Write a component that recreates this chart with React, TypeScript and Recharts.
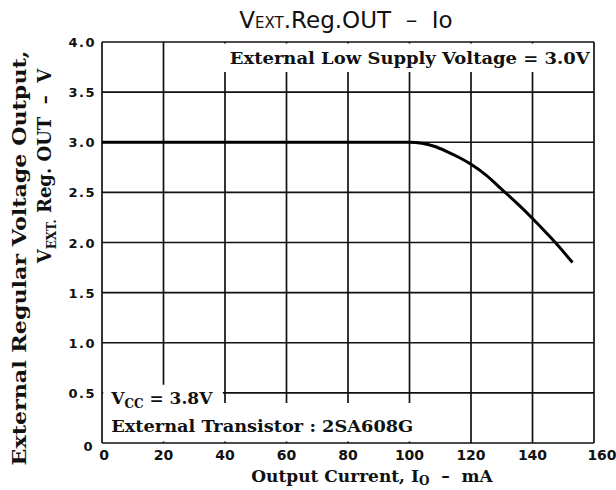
import { LineChart, Line, XAxis, YAxis, CartesianGrid, ReferenceArea, Customized } from 'recharts';

// output current (mA) vs external regulator output (V)
const currentMA = [0, 20, 40, 60, 80, 100, 104, 108, 112, 116, 120, 125, 130, 135, 140, 145, 148, 153];
const voltageV = [3.0, 3.0, 3.0, 3.0, 3.0, 3.0, 2.99, 2.96, 2.91, 2.85, 2.78, 2.67, 2.53, 2.39, 2.24, 2.08, 1.98, 1.8];

const xTicks = [0, 20, 40, 60, 80, 100, 120, 140, 160];
const yTicks = [0, 0.5, 1.0, 1.5, 2.0, 2.5, 3.0, 3.5, 4.0];

const data = currentMA.map((c, i) => ({ io: c, v: voltageV[i] }));

const serif = '"DejaVu Serif", serif';
const sans = '"DejaVu Sans", sans-serif';
const ink = '#111';

const YTick = (props: any) => {
    const { x, y, payload } = props;
    const v = payload.value;
    const txt = v === 0 ? '0' : v.toFixed(1);
    return (
        <text x={v === 0 ? x : x + 2} y={v === 0 ? y + 8 : y + 5} textAnchor="end" fontFamily={sans} fontWeight="bold" fontSize={13} letterSpacing={1.5} fill={ink}>
            {txt}
        </text>
    );
};

const XTick = (props: any) => {
    const { x, y, payload } = props;
    const dx = payload.value === 160 ? 8 : payload.value === 0 ? 2 : 0;
    return (
        <text x={x + dx} y={y + 9} textAnchor="middle" fontFamily={sans} fontWeight="bold" fontSize={14} fill={ink}>
            {payload.value}
        </text>
    );
};

const TopNote = (props: any) => {
    const { x, y, width } = props.viewBox;
    return (
        <text x={x + width - 3} y={y + 20} textAnchor="end" fontFamily={serif} fontWeight="bold" fontSize={16} textLength={360} lengthAdjust="spacingAndGlyphs" fill={ink}>
            External Low Supply Voltage = 3.0V
        </text>
    );
};

const VccNote = (props: any) => {
    const { x, y } = props.viewBox;
    return (
        <text x={x + 8} y={y + 19} fontFamily={serif} fontWeight="bold" fontSize={17} fill={ink}>
            V<tspan fontSize={12} dy={4}>CC</tspan><tspan dy={-4}> = 3.8V</tspan>
        </text>
    );
};

const TrNote = (props: any) => {
    const { x, y } = props.viewBox;
    return (
        <text x={x + 8} y={y + 29} fontFamily={serif} fontWeight="bold" fontSize={17} textLength={302} lengthAdjust="spacingAndGlyphs" fill={ink}>
            External Transistor : 2SA608G
        </text>
    );
};

const Texts = () => (
    <g>
        <text x={346} y={28} textAnchor="middle" fontFamily={sans} fontSize={23} fill={ink}>
            V<tspan fontSize={15}>EXT</tspan>.Reg.OUT{'\u00a0\u00a0'}–{'\u00a0\u00a0'}Io
        </text>
        <text transform="translate(26,258) rotate(-90)" textAnchor="middle" fontFamily={serif} fontWeight="bold" fontSize={18} textLength={415} lengthAdjust="spacingAndGlyphs" fill={ink}>
            External Regular Voltage Output,
        </text>
        <text transform="translate(51,166) rotate(-90)" textAnchor="middle" fontFamily={serif} fontWeight="bold" fontSize={18} fill={ink}>
            V<tspan fontSize={12} dy={5}>EXT.</tspan><tspan dy={-5}> Reg. OUT{'\u00a0\u00a0'}–{'\u00a0\u00a0'}V</tspan>
        </text>
        <text x={372} y={482} textAnchor="middle" fontFamily={serif} fontWeight="bold" fontSize={17} fill={ink}>
            Output Current, I<tspan fontSize={12} dy={3}>O</tspan><tspan dy={-3}>{'\u00a0\u00a0'}–{'\u00a0\u00a0'}mA</tspan>
        </text>
    </g>
);

export default function App() {
    return (
        <div style={{ position: 'fixed', left: 0, top: 0, width: 616, height: 490, background: '#fff' }}>
            <LineChart width={616} height={490} data={data} margin={{ top: 42, right: 22, bottom: 0, left: 0 }}>
                <CartesianGrid stroke={ink} strokeWidth={1.7} />
                <XAxis dataKey="io" type="number" domain={[0, 160]} ticks={xTicks} height={47} tickLine={false} axisLine={false} tick={<XTick />} interval={0} />
                <YAxis type="number" domain={[0, 4]} ticks={yTicks} width={102} tickLine={false} axisLine={false} tick={<YTick />} interval={0} />
                <ReferenceArea x1={38} x2={159.6} y1={3.7} y2={3.985} fill="#fff" fillOpacity={1} stroke="none" label={<TopNote />} />
                <ReferenceArea x1={0.4} x2={102} y1={0.015} y2={0.4} fill="#fff" fillOpacity={1} stroke="none" label={<TrNote />} />
                <ReferenceArea x1={0.4} x2={39.3} y1={0.4} y2={0.58} fill="#fff" fillOpacity={1} stroke="none" label={<VccNote />} />
                <Line dataKey="v" type="monotone" stroke="#000" strokeWidth={3} dot={false} isAnimationActive={false} />
                <Customized component={Texts} />
            </LineChart>
        </div>
    );
}
